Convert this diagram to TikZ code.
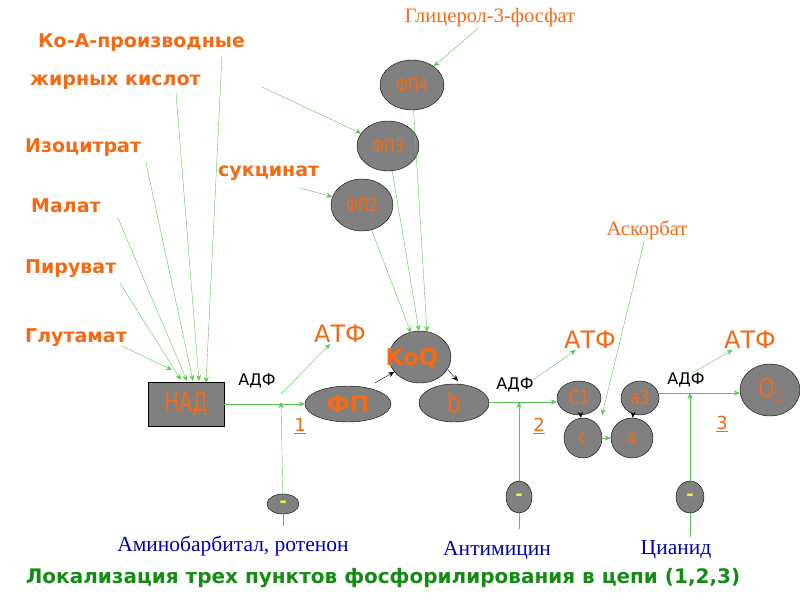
\documentclass[tikz,border=0pt]{standalone}
\usepackage{fontspec}
\setmainfont{Liberation Serif}
\setsansfont{DejaVu Sans}
\usetikzlibrary{arrows.meta,shapes.geometric}
\definecolor{org}{RGB}{245,105,20}
\definecolor{gry}{RGB}{128,128,128}
\definecolor{grn}{RGB}{90,200,80}
\definecolor{blu}{RGB}{0,0,175}
\definecolor{tgrn}{RGB}{20,140,20}
\definecolor{yel}{RGB}{240,240,60}
\tikzset{
 el/.style={ellipse,draw=black,fill=gry,inner sep=0pt,text=org,font=\sffamily\fontsize{19}{19}\selectfont},
 lab/.style={text=org,font=\sffamily\bfseries\fontsize{19}{19}\selectfont,inner sep=0pt,anchor=west},
 slab/.style={text=org,font=\fontsize{20.5}{20.5}\selectfont,inner sep=1pt},
 atf/.style={text=org,font=\sffamily\fontsize{24}{24}\selectfont,inner sep=1pt},
 adf/.style={text=black,font=\sffamily\fontsize{16}{16}\selectfont,inner sep=1pt},
 num/.style={text=org,font=\sffamily\fontsize{18}{18}\selectfont,inner sep=1pt},
 blab/.style={text=blu,font=\fontsize{21.5}{21.5}\selectfont,inner sep=1pt},
 ga/.style={draw=grn,-{Stealth[length=6pt,width=5pt]}},
 gl/.style={draw=grn},
 ka/.style={draw=black,-{Stealth[length=6pt,width=5pt]}},
 minus/.style={el,text=yel,font=\sffamily\bfseries\fontsize{18}{18}\selectfont}
}
\begin{document}
\begin{tikzpicture}[x=1pt,y=-1pt]
\useasboundingbox (0,0) rectangle (800,600);
% nodes
\node[draw=black,fill=gry,minimum width=76pt,minimum height=44pt,text=org,font=\sffamily\fontsize{24}{24}\selectfont,inner sep=0pt] (nad) at (186,404) {\scalebox{0.8}[1.1]{НАД}};
\node[el,minimum width=86pt,minimum height=36pt,font=\sffamily\bfseries\fontsize{23}{23}\selectfont] (fp) at (348,404) {ФП};
\node[el,minimum width=62pt,minimum height=52pt] (koq) at (420,357) {};
\node[text=org,font=\sffamily\bfseries\fontsize{23}{23}\selectfont] (koqt) at (412,359) {KoQ};
\node[el,minimum width=70pt,minimum height=38pt,font=\sffamily\fontsize{26}{26}\selectfont] (b) at (454,403) {\scalebox{0.85}[1]{b}};
\node[el,minimum width=44pt,minimum height=34pt] (c1) at (579,398) {\scalebox{0.8}[1]{C1}};
\node[el,minimum width=38pt,minimum height=40pt] (c) at (583,438) {\scalebox{0.8}[1]{c}};
\node[el,minimum width=38pt,minimum height=34pt] (a3) at (640,398) {\scalebox{0.8}[1]{a3}};
\node[el,minimum width=42pt,minimum height=40pt] (a) at (632,438) {\scalebox{0.8}[1]{a}};
\node[el,minimum width=60pt,minimum height=52pt,font=\sffamily\fontsize{26}{26}\selectfont] (o2) at (770,390) {\scalebox{0.8}[1]{O$_2$}};
\node[minus,minimum width=32pt,minimum height=20pt] (m1) at (283,504) {-};
\node[minus,minimum width=26pt,minimum height=32pt] (m2) at (519,497) {-};
\node[minus,minimum width=28pt,minimum height=32pt] (m3) at (690,497) {-};
\node[el,minimum width=64pt,minimum height=50pt,font=\sffamily\fontsize{18}{18}\selectfont] (fp4) at (412,85) {\scalebox{0.8}[1]{ФП4}};
\node[el,minimum width=62pt,minimum height=50pt,font=\sffamily\fontsize{18}{18}\selectfont] (fp3) at (388,146) {\scalebox{0.8}[1]{ФП3}};
\node[el,minimum width=62pt,minimum height=52pt,font=\sffamily\fontsize{18}{18}\selectfont] (fp2) at (362,205) {\scalebox{0.8}[1]{ФП2}};
% labels
\node[slab] (gly) at (490,18) {Глицерол-3-фосфат};
\node[lab] (koa) at (38,43) {Ко-А-производные};
\node[lab] (zhk) at (30,82) {жирных кислот};
\node[lab] (izo) at (25,148) {Изоцитрат};
\node[lab] (mal) at (31,206) {Малат};
\node[lab] (pir) at (25,269) {Пируват};
\node[lab] (glu) at (25,338) {Глутамат};
\node[lab] (suc) at (218,173) {сукцинат};
\node[slab] (asc) at (647,230) {Аскорбат};
\node[atf] (atf1) at (340,334) {АТФ};
\node[atf] (atf2) at (590,340) {АТФ};
\node[atf] (atf3) at (750,340) {АТФ};
\node[adf] (adf1) at (257,381) {АДФ};
\node[adf] (adf2) at (515,385) {АДФ};
\node[adf] (adf3) at (686,380) {АДФ};
\node[num] (n1) at (300,426) {\underline{1}};
\node[num] (n2) at (539,426) {\underline{2}};
\node[num] (n3) at (722,424) {\underline{3}};
\node[blab] (amb) at (233,546) {Аминобарбитал, ротенон};
\node[blab] (ant) at (497,550) {Антимицин};
\node[blab] (cia) at (676,550) {Цианид};
\node[text=tgrn,font=\sffamily\bfseries\fontsize{20}{20}\selectfont] (title) at (383,578) {Локализация трех пунктов фосфорилирования в цепи (1,2,3)};
% coordinates
\coordinate (s1) at (222,55); \coordinate (s2) at (176,93); \coordinate (s3) at (146,163);
\coordinate (s4) at (118,218); \coordinate (s5) at (120,283); \coordinate (s6) at (122,346);
\coordinate (s7) at (262,87); \coordinate (s8) at (300,188);
\coordinate (j1) at (281,402); \coordinate (j2) at (519,402); \coordinate (j3) at (690,393);
% green arrows to NAD
\draw[ga] (s1) -- (206,383);
\draw[ga] (s2) -- (199,381);
\draw[ga] (s3) -- (193,381);
\draw[ga] (s4) -- (187,381);
\draw[ga] (s5) -- (181,380);
\draw[ga] (s6) -- (172,370);
\draw[ga] (s7) -- (fp3);
\draw[ga] (s8) -- (fp2);
\draw[ga] (gly) -- (fp4);
\draw[ga] (fp4) -- (427,332);
\draw[ga] (fp3) -- (419,331);
\draw[ga] (fp2) -- (411,333);
% chain
\draw[ga] (nad) -- (fp);
\draw[ga] (j1) ++(0,-8) -- (atf1);
\draw[ga] (m1) -- (j1);
\draw[gl] (m1.south) -- ++(0,12);
\draw[ga] (b.east |- j2) -- (c1.west |- j2);
\draw[ga] (j2) ++(14,-22) -- (atf2);
\draw[ga] (m2) -- (j2);
\draw[gl] (m2.south) -- ++(0,16);
\draw[ga] (a3.east |- j3) -- (o2.west |- j3);
\draw[ga] (j3) ++(2,-20) -- (atf3);
\draw[ga] (m3) -- (j3);
\draw[gl] (m3.south) -- ++(0,24);
\draw[ga] (asc) -- (602,415);
\draw[ga] (c) -- (a);
\draw[ka] (375,383) -- (koq);
\draw[ka] (448,370) -- (458,381);
\draw[ka] (c1) -- (c);
\draw[ka] (633,413) -- (a);
\end{tikzpicture}
\end{document}
